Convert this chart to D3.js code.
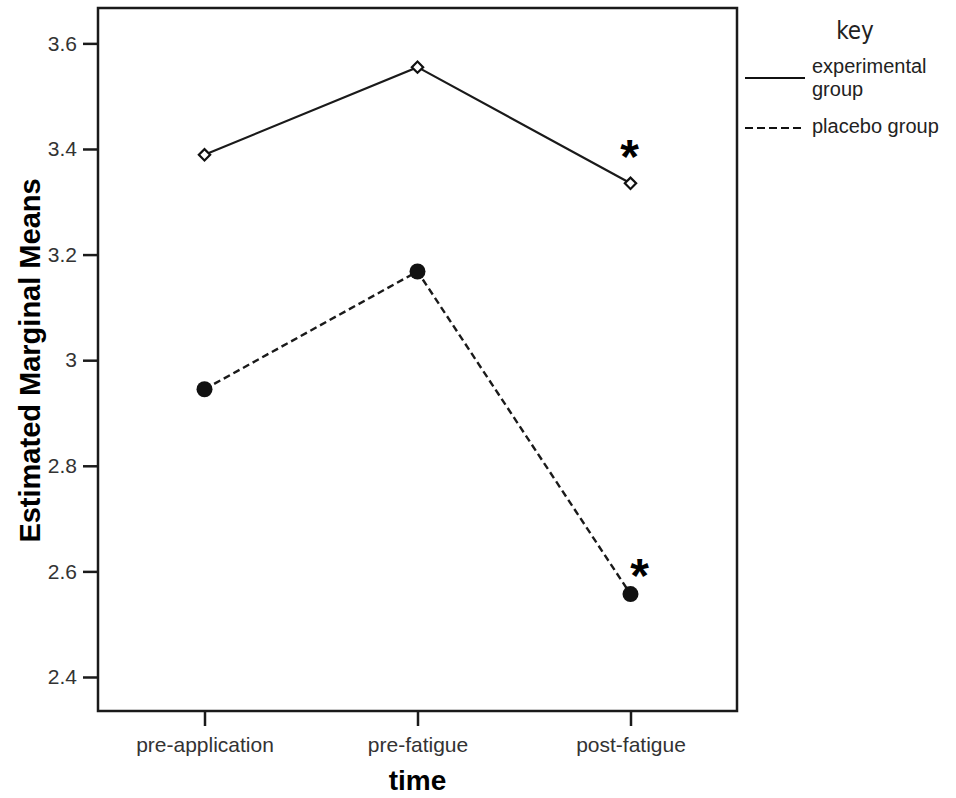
<!DOCTYPE html>
<html>
<head>
<meta charset="utf-8">
<script src="https://cdn.jsdelivr.net/npm/d3@7"></script>
<style>
  body { margin: 0; background: #fff; }
  svg text { font-family: "Liberation Sans", Arial, sans-serif; }
</style>
</head>
<body>
<svg id="chart" width="956" height="798"></svg>
<script>
// data
const times = ["pre-application", "pre-fatigue", "post-fatigue"];
const experimental = [3.389, 3.555, 3.335];
const placebo = [2.945, 3.168, 2.557];
const yTicks = [2.4, 2.6, 2.8, 3.0, 3.2, 3.4, 3.6];
const stars = ["post-fatigue"]; // significant at this time

const svg = d3.select("#chart");

// plot frame
const plotL = 98, plotR = 737, plotT = 8, plotB = 711;

const x = d3.scalePoint()
  .domain(times)
  .range([plotL, plotR])
  .padding(0.5);

const y = d3.scaleLinear()
  .domain([2.3356, 3.667])
  .range([plotB, plotT]);

svg.append("rect")
  .attr("x", plotL).attr("y", plotT)
  .attr("width", plotR - plotL).attr("height", plotB - plotT)
  .attr("fill", "none").attr("stroke", "#1a1a1a").attr("stroke-width", 2.5);

// axes
const yAxis = svg.append("g")
  .attr("transform", `translate(${plotL},0)`)
  .call(d3.axisLeft(y).tickValues(yTicks).tickSize(15).tickPadding(6)
    .tickFormat(d => d === 3 ? "3" : d3.format(".1f")(d)));

const xAxis = svg.append("g")
  .attr("transform", `translate(0,${plotB})`)
  .call(d3.axisBottom(x).tickSize(15).tickPadding(10));

[yAxis, xAxis].forEach(a => {
  a.select(".domain").remove();
  a.selectAll(".tick line").attr("stroke", "#1a1a1a").attr("stroke-width", 2.5);
  a.selectAll(".tick text")
    .attr("fill", "#333")
    .style("font-size", "21px")
    .style("font-family", "'Liberation Sans', Arial, sans-serif");
});
xAxis.selectAll(".tick text").attr("dy", null).attr("y", 41);

// axis titles
svg.append("text")
  .attr("x", x("pre-fatigue")).attr("y", 790)
  .attr("text-anchor", "middle")
  .style("font-size", "28px").style("font-weight", "bold")
  .text("time");

svg.append("text")
  .attr("transform", `translate(40,${(plotT + plotB) / 2 + 1}) rotate(-90)`)
  .attr("text-anchor", "middle")
  .style("font-size", "29px").style("font-weight", "bold")
  .text("Estimated Marginal Means");

// lines
const line = d3.line()
  .x((d, i) => x(times[i]))
  .y(d => y(d));

svg.append("path")
  .datum(experimental)
  .attr("d", line)
  .attr("fill", "none").attr("stroke", "#1a1a1a").attr("stroke-width", 2.2);

svg.append("path")
  .datum(placebo)
  .attr("d", line)
  .attr("fill", "none").attr("stroke", "#1a1a1a").attr("stroke-width", 2.4)
  .attr("stroke-dasharray", "7,4");

// markers
svg.selectAll(".diamond")
  .data(experimental)
  .enter().append("path")
  .attr("class", "diamond")
  .attr("transform", (d, i) => `translate(${x(times[i])},${y(d)}) rotate(45)`)
  .attr("d", "M-4,-4H4V4H-4Z")
  .attr("fill", "#fff").attr("stroke", "#111").attr("stroke-width", 2.2);

svg.selectAll(".dot")
  .data(placebo)
  .enter().append("circle")
  .attr("class", "dot")
  .attr("cx", (d, i) => x(times[i]))
  .attr("cy", d => y(d))
  .attr("r", 8)
  .attr("fill", "#111");

// significance stars
stars.forEach(t => {
  const i = times.indexOf(t);
  svg.append("text")
    .attr("x", x(t) - 1).attr("y", y(experimental[i]) - 10)
    .attr("text-anchor", "middle")
    .style("font-size", "48px").style("font-weight", "bold")
    .text("*");
  svg.append("text")
    .attr("x", x(t) + 9).attr("y", y(placebo[i]) - 2)
    .attr("text-anchor", "middle")
    .style("font-size", "48px").style("font-weight", "bold")
    .text("*");
});

// legend
const legend = svg.append("g");
legend.append("text")
  .attr("x", 855).attr("y", 39)
  .attr("text-anchor", "middle")
  .attr("fill", "#222")
  .style("font-size", "24px")
  .style("font-family", "'DejaVu Sans Condensed', 'DejaVu Sans', sans-serif")
  .text("key");

legend.append("line")
  .attr("x1", 745).attr("x2", 805).attr("y1", 78).attr("y2", 78)
  .attr("stroke", "#111").attr("stroke-width", 2.2);
legend.append("line")
  .attr("x1", 745).attr("x2", 805).attr("y1", 128).attr("y2", 128)
  .attr("stroke", "#111").attr("stroke-width", 2.2)
  .attr("stroke-dasharray", "8,4");

const legText = [["experimental", 73], ["group", 96], ["placebo group", 133]];
legend.selectAll(".lt")
  .data(legText)
  .enter().append("text")
  .attr("class", "lt")
  .attr("x", 812).attr("y", d => d[1])
  .attr("fill", "#222")
  .style("font-size", "20px")
  .text(d => d[0]);
</script>
</body>
</html>
